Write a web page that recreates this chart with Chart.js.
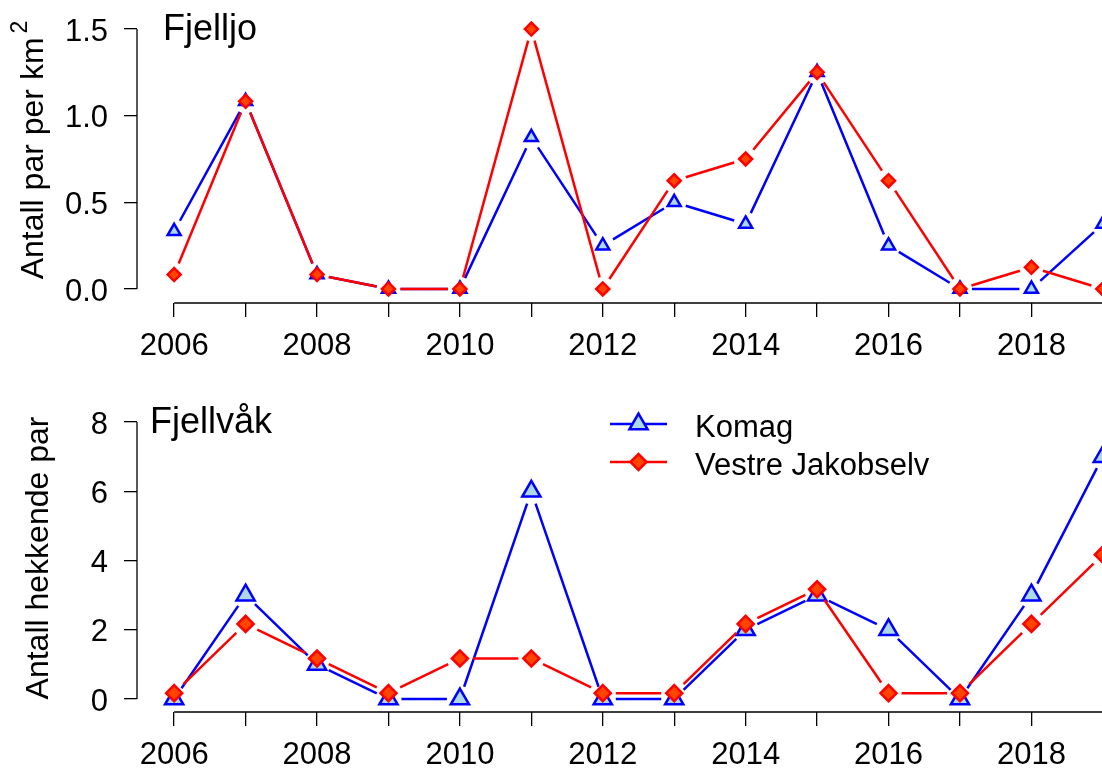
<!DOCTYPE html>
<html>
<head>
<meta charset="utf-8">
<script src="https://cdn.jsdelivr.net/npm/chart.js@4.4.1/dist/chart.umd.min.js"></script>
<style>
  html, body { margin: 0; padding: 0; background: #fff; overflow: hidden; width: 1102px; height: 769px; }
  canvas { display: block; }
</style>
</head>
<body>
<canvas id="fjelljo" width="1140" height="380"></canvas>
<canvas id="fjellvak" width="1140" height="389"></canvas>
<script>
// ---- data ----
const years = [2006, 2007, 2008, 2009, 2010, 2011, 2012, 2013, 2014, 2015, 2016, 2017, 2018, 2019];
const seriesNames = ['Komag', 'Vestre Jakobselv'];

// Fjelljo: pairs per km²
const fjelljoKomag  = [0.333, 1.083, 0.083, 0, 0, 0.875, 0.25, 0.5, 0.375, 1.25, 0.25, 0, 0, 0.375];
const fjelljoVestre = [0.083, 1.083, 0.083, 0, 0, 1.5, 0, 0.625, 0.75, 1.25, 0.625, 0, 0.125, 0];
const fjelljoYTicks = [0, 0.5, 1.0, 1.5];

// Fjellvåk: breeding pairs (Vestre Jakobselv drawn slightly lifted so overlapping points stay visible)
const fjellvakKomag  = [0, 3, 1, 0, 0, 6, 0, 0, 2, 3, 2, 0, 3, 7];
const fjellvakVestre = [0.17, 2.17, 1.17, 0.17, 1.17, 1.17, 0.17, 0.17, 2.17, 3.17, 0.17, 0.17, 2.17, 4.17];
const fjellvakYTicks = [0, 2, 4, 6, 8];

const FONT = "'Liberation Sans', Arial, Helvetica, sans-serif";
const BLUE = '#0000ff', LIGHTBLUE = '#add8e6', RED = '#ff0000', ORANGERED = '#ff4500';

const toXY = (vals) => vals.map((v, i) => ({ x: years[i], y: v }));

// lines between points with a small gap around each symbol (type = "b" look)
const gapLines = {
  id: 'gapLines',
  beforeDatasetDraw(chart, args) {
    const ds = chart.data.datasets[args.index];
    const pts = args.meta.data;
    const gap = ds.gap;
    const ctx = chart.ctx;
    ctx.save();
    ctx.strokeStyle = ds.gapColor;
    ctx.lineWidth = ds.gapWidth;
    ctx.lineCap = 'butt';
    ctx.beginPath();
    for (let i = 0; i < pts.length - 1; i++) {
      const a = pts[i], b = pts[i + 1];
      const dx = b.x - a.x, dy = b.y - a.y, d = Math.hypot(dx, dy);
      if (d <= 2 * gap) continue;
      const ux = dx / d, uy = dy / d;
      ctx.moveTo(a.x + ux * gap, a.y + uy * gap);
      ctx.lineTo(b.x - ux * gap, b.y - uy * gap);
    }
    ctx.stroke();
    ctx.restore();
  }
};

// axis lines spanning only the tick range, panel title, rotated y title and legend
const frame = {
  id: 'frame',
  afterDraw(chart, args, o) {
    const { ctx, chartArea, scales: { x, y } } = chart;
    ctx.save();
    ctx.strokeStyle = '#000';
    ctx.lineWidth = 1.3;
    ctx.beginPath();
    ctx.moveTo(x.getPixelForValue(years[0]), chartArea.bottom);
    ctx.lineTo(x.getPixelForValue(years[years.length - 1]), chartArea.bottom);
    ctx.moveTo(chartArea.left, y.getPixelForValue(o.yTicks[0]));
    ctx.lineTo(chartArea.left, y.getPixelForValue(o.yTicks[o.yTicks.length - 1]));
    ctx.stroke();

    // panel title
    ctx.fillStyle = '#000';
    ctx.font = '36px ' + FONT;
    ctx.textAlign = 'left';
    ctx.textBaseline = 'alphabetic';
    ctx.fillText(o.title, o.titleX, o.titleY);

    // y-axis title (rotated), optional superscript
    ctx.save();
    ctx.translate(o.yTitleX, o.yTitleY);
    ctx.rotate(-Math.PI / 2);
    ctx.font = '32px ' + FONT;
    const w1 = ctx.measureText(o.yTitle).width;
    let w2 = 0;
    if (o.yTitleSup) {
      ctx.font = '23px ' + FONT;
      w2 = ctx.measureText(o.yTitleSup).width + 4;
    }
    const start = -(w1 + w2) / 2;
    ctx.font = '32px ' + FONT;
    ctx.fillText(o.yTitle, start, 0);
    if (o.yTitleSup) {
      ctx.font = '23px ' + FONT;
      ctx.fillText(o.yTitleSup, start + w1 + 4, -16);
    }
    ctx.restore();

    // legend
    if (o.legend) {
      const L = o.legend;
      chart.data.datasets.forEach((ds, i) => {
        const ly = L.y + i * L.dy;
        ctx.strokeStyle = ds.gapColor;
        ctx.lineWidth = ds.gapWidth;
        ctx.beginPath();
        ctx.moveTo(L.x, ly);
        ctx.lineTo(L.x + L.len, ly);
        ctx.stroke();
        ctx.fillStyle = ds.pointBackgroundColor;
        ctx.strokeStyle = ds.pointBorderColor;
        ctx.lineWidth = ds.pointBorderWidth;
        Chart.helpers.drawPoint(ctx, {
          pointStyle: ds.pointStyle,
          radius: ds.pointRadius,
          borderWidth: ds.pointBorderWidth,
          rotation: 0
        }, L.x + L.len / 2, ly);
        ctx.fillStyle = '#000';
        ctx.font = '31px ' + FONT;
        ctx.textBaseline = 'alphabetic';
        ctx.fillText(ds.label, L.textX, ly + L.textDy);
      });
    }
    ctx.restore();
  }
};

function makePanel(canvasId, komag, vestre, yTicks, yMin, yMax, sizes, frameOpts) {
  const datasets = [
    {
      label: seriesNames[0],
      data: toXY(komag),
      order: 1,
      pointStyle: 'triangle',
      pointRadius: sizes.tri,
      pointHoverRadius: sizes.tri,
      pointBorderWidth: 2.5,
      pointBackgroundColor: LIGHTBLUE,
      pointBorderColor: BLUE,
      gap: sizes.gap,
      gapColor: BLUE,
      gapWidth: 2.5
    },
    {
      label: seriesNames[1],
      data: toXY(vestre),
      order: 0,
      pointStyle: 'rectRot',
      pointRadius: sizes.dia,
      pointHoverRadius: sizes.dia,
      pointBorderWidth: 2.5,
      pointBackgroundColor: ORANGERED,
      pointBorderColor: RED,
      gap: sizes.gap,
      gapColor: RED,
      gapWidth: 2.5
    }
  ];
  const yStep = yTicks[1] - yTicks[0];
  return new Chart(document.getElementById(canvasId), {
    type: 'scatter',
    data: { datasets },
    options: {
      responsive: false,
      animation: false,
      devicePixelRatio: 1,
      events: [],
      layout: { autoPadding: false, padding: { top: sizes.top, left: 0, right: 0, bottom: 0 } },
      plugins: { legend: { display: false }, tooltip: { enabled: false }, frame: frameOpts },
      scales: {
        x: {
          type: 'linear',
          min: years[0] - 0.04 * (years[years.length - 1] - years[0]),
          max: years[years.length - 1] + 0.04 * (years[years.length - 1] - years[0]),
          border: { display: false },
          grid: { display: true, drawOnChartArea: false, drawTicks: true, tickLength: 14, color: '#000', lineWidth: 1.3 },
          ticks: {
            stepSize: 1,
            includeBounds: false,
            autoSkip: false,
            maxRotation: 0,
            minRotation: 0,
            padding: 11,
            color: '#000',
            font: { family: FONT, size: 31 },
            callback: (v) => (v % 2 === 0 ? String(v) : '')
          },
          afterFit: (s) => { s.height = sizes.xAxisH; s.paddingLeft = 0; s.paddingRight = 0; }
        },
        y: {
          type: 'linear',
          min: yMin,
          max: yMax,
          border: { display: false },
          grid: { display: true, drawOnChartArea: false, drawTicks: true, tickLength: 13, color: '#000', lineWidth: 1.3 },
          ticks: {
            stepSize: yStep,
            includeBounds: false,
            padding: 16,
            labelOffset: 3,
            color: '#000',
            font: { family: FONT, size: 31 },
            callback: (v) => (yStep < 1 ? Number(v).toFixed(1) : String(v))
          },
          afterFit: (s) => { s.width = 137; s.paddingTop = 0; s.paddingBottom = 0; }
        }
      }
    },
    plugins: [gapLines, frame]
  });
}

makePanel('fjelljo', fjelljoKomag, fjelljoVestre, fjelljoYTicks, -0.081, 1.558,
  { tri: 7.5, dia: 6.5, gap: 12, top: 19, xAxisH: 77 },
  { yTicks: fjelljoYTicks, title: 'Fjelljo', titleX: 163, titleY: 40,
    yTitle: 'Antall par per km', yTitleSup: '2', yTitleX: 43, yTitleY: 150 });

makePanel('fjellvak', fjellvakKomag, fjellvakVestre, fjellvakYTicks, -0.375, 8.318,
  { tri: 10.5, dia: 8, gap: 13, top: 31, xAxisH: 57 },
  { yTicks: fjellvakYTicks, title: 'Fjellvåk', titleX: 150, titleY: 53,
    yTitle: 'Antall hekkende par', yTitleX: 48, yTitleY: 178,
    legend: { x: 610, len: 57, y: 44, dy: 38, textX: 695, textDy: 13 } });
</script>
</body>
</html>
